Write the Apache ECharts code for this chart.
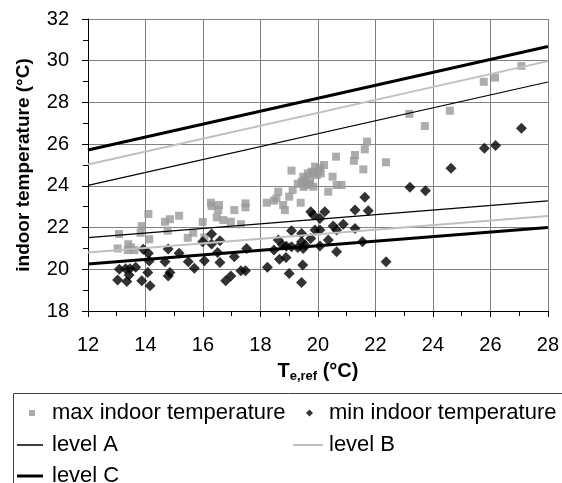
<!DOCTYPE html>
<html>
<head>
<meta charset="utf-8">
<script src="https://cdn.jsdelivr.net/npm/echarts@6/dist/echarts.min.js"></script>
<style>
    html,body{margin:0;padding:0;background:#fff;}
    #chart{width:562px;height:483px;}
</style>
</head>
<body>
<div id="chart"></div>
<script>
// measured points: [Te,ref, indoor temperature]
var maxIndoor=[
    [13.08,21.69],[13.03,21.0],[13.4,21.2],[13.38,20.92],[13.61,20.92],[13.5,21.05],
    [13.87,22.07],[13.83,21.75],[14.1,22.65],[14.13,21.44],[14.68,22.28],[14.85,22.4],
    [14.77,21.85],[15.17,22.57],[15.47,21.51],[15.66,21.75],[15.99,22.27],[16.05,21.53],
    [16.28,23.19],[16.3,23.03],[16.56,23.08],[16.53,22.84],[16.48,22.49],[16.71,22.36],
    [16.97,22.28],[17.09,22.84],[17.32,22.16],[17.48,23.16],[17.48,22.97],
    [18.22,23.19],[18.47,23.29],[18.62,23.72],[18.56,23.4],[18.79,23.08],[18.85,22.84],
    [19.0,23.48],[19.12,23.8],[19.08,24.73],[19.4,23.19],[19.43,24.2],[19.49,24.44],
    [19.6,24.04],[19.72,24.28],[19.78,24.68],[19.9,24.92],[19.96,24.52],[20.07,24.84],
    [20.21,25.0],[19.84,23.96],[19.72,24.12],[19.84,24.6],[19.55,24.3],[19.65,24.6],
    [20.0,24.7],[20.1,24.6],[19.5,23.95],[19.3,24.1],
    [20.36,23.72],[20.51,24.44],[20.63,25.4],[20.65,24.04],[20.82,24.04],[21.29,25.48],
    [21.25,25.2],[21.58,24.79],[21.63,25.75],[21.71,26.12],[22.37,25.13],
    [23.18,27.45],[23.72,26.87],[24.59,27.6],[25.77,28.99],[26.16,29.19],[27.08,29.75]
];
var minIndoor=[
    [13.09,20.0],[13.03,19.49],[13.31,20.03],[13.46,20.03],[13.66,20.1],[13.43,19.73],
    [13.35,19.41],[13.92,20.96],[14.1,20.77],[14.13,20.4],[14.08,19.84],[13.87,19.45],
    [14.16,19.21],[14.79,20.97],[14.68,20.36],[14.85,19.84],[14.79,19.68],[15.17,20.77],
    [15.49,20.36],[15.7,20.05],[15.99,21.32],[16.05,20.41],[16.3,21.69],[16.3,21.21],
    [16.59,21.37],[16.51,20.8],[16.59,20.32],[16.79,19.45],[16.97,19.68],[17.09,20.6],
    [17.32,19.93],[17.48,19.93],[17.52,21.0],
    [18.24,20.1],[18.66,20.48],[18.89,20.57],[19.0,19.8],[19.43,19.37],[19.47,20.2],
    [18.47,20.92],[18.62,21.4],[18.77,21.16],[19.08,21.08],[19.08,21.85],[19.43,21.72],
    [19.43,21.32],[19.49,21.0],[19.55,21.16],[19.75,21.48],[19.75,22.76],[19.84,22.6],
    [19.9,21.88],[20.07,21.88],[20.07,21.12],[20.07,22.44],[20.24,22.76],[20.36,21.4],
    [20.53,22.08],[20.65,21.88],[20.65,20.84],[20.88,22.16],[21.29,22.84],[21.29,21.96],
    [21.55,21.32],[21.63,23.45],[21.75,22.81],[22.37,20.36],[19.3,21.05],[18.9,21.1],
    [23.2,23.93],[23.74,23.77],[24.63,24.84],[25.79,25.8],[26.18,25.93],[27.08,26.76]
];
// comfort limits at Te,ref = 12 and 28
var teRef=[12,28];
var levelAUpper=[24.02,28.98];
var levelALower=[21.52,23.28];
var levelBUpper=[25.02,29.98];
var levelBLower=[20.8,22.55];
var levelCUpper=[25.72,30.68];
var levelCLower=[20.25,22.0];

var sFont="'Liberation Sans', Arial, sans-serif";

function toPairs(aY){
    var aOut=[];
    for(var i=0;i<teRef.length;i++){
        aOut.push([teRef[i],aY[i]]);
    }
    return aOut;
}
function levelSeries(sName,aY,sColor,iWidth){
    return {
        name:sName,
        type:'line',
        symbol:'none',
        silent:true,
        z:3,
        lineStyle:{color:sColor,width:iWidth},
        itemStyle:{color:sColor},
        data:toPairs(aY)
    };
}
function axisCommon(iMin,iMax){
    return {
        type:'value',
        min:iMin,
        max:iMax,
        interval:2,
        axisLine:{show:true,onZero:false,lineStyle:{color:'#000',width:1}},
        axisTick:{show:true,length:6,lineStyle:{color:'#000'}},
        minorTick:{show:true,splitNumber:2,length:5,lineStyle:{color:'#000'}},
        splitLine:{show:true,lineStyle:{color:'#808080',width:1}},
        axisLabel:{color:'#000',fontSize:20,fontFamily:sFont},
        nameTextStyle:{color:'#000',fontFamily:sFont}
    };
}

var xAxis=axisCommon(12,28);
xAxis.axisLabel.margin=24;
xAxis.name='{b|T}{s|e,ref}{b| (°C)}';
xAxis.nameLocation='middle';
xAxis.nameGap=45;
xAxis.nameTextStyle.rich={
    b:{fontSize:20,fontWeight:'bold',fontFamily:sFont,color:'#000',lineHeight:24},
    s:{fontSize:13,fontWeight:'bold',fontFamily:sFont,color:'#000',lineHeight:14,padding:[10,0,0,0]}
};

var yAxis=axisCommon(18,32);
yAxis.axisLabel.margin=19;
yAxis.name='indoor temperature (°C)';
yAxis.nameLocation='middle';
yAxis.nameGap=55;
yAxis.nameTextStyle.fontSize=19;
yAxis.nameTextStyle.fontWeight='bold';

// the legend box is as tall as its text, so iTop is the text row top
function legendAt(sName,sIcon,iLeft,iTop,iW,iH,iPad){
    return {
        data:[{name:sName,icon:sIcon}],
        left:iLeft,
        top:iTop,
        padding:0,
        itemWidth:iW,
        itemHeight:iH,
        selectedMode:false,
        textStyle:{color:'#000',fontSize:22,fontFamily:sFont,padding:[0,0,0,iPad]}
    };
}

var oChart=echarts.init(document.getElementById('chart'),null,{renderer:'canvas'});
oChart.setOption({
    animation:false,
    backgroundColor:'#fff',
    grid:{left:88,right:14,top:19,bottom:172,containLabel:false},
    xAxis:xAxis,
    yAxis:yAxis,
    graphic:[{
        type:'rect',
        left:11,
        top:391,
        shape:{width:580,height:120},
        style:{fill:'none',stroke:'#404040',lineWidth:1},
        silent:true
    }],
    legend:[
        legendAt('max indoor temperature','rect',29,402,6,6,12),
        legendAt('min indoor temperature','diamond',306,402,7,7,11),
        legendAt('level A','rect',17,434,26,1.5,4),
        legendAt('level B','rect',293,434,30,2,1),
        legendAt('level C','rect',17,465,26,3,4)
    ],
    series:[
        {
            name:'max indoor temperature',
            type:'scatter',
            symbol:'rect',
            symbolSize:8,
            z:2,
            itemStyle:{color:'#999999'},
            data:maxIndoor
        },
        {
            name:'min indoor temperature',
            type:'scatter',
            symbol:'diamond',
            symbolSize:11,
            z:2,
            itemStyle:{color:'#000'},
            data:minIndoor
        },
        levelSeries('level A',levelAUpper,'#000',1.2),
        levelSeries('level A',levelALower,'#000',1.2),
        levelSeries('level B',levelBUpper,'#c0c0c0',2),
        levelSeries('level B',levelBLower,'#c0c0c0',2),
        levelSeries('level C',levelCUpper,'#000',3),
        levelSeries('level C',levelCLower,'#000',3)
    ]
});
</script>
</body>
</html>
